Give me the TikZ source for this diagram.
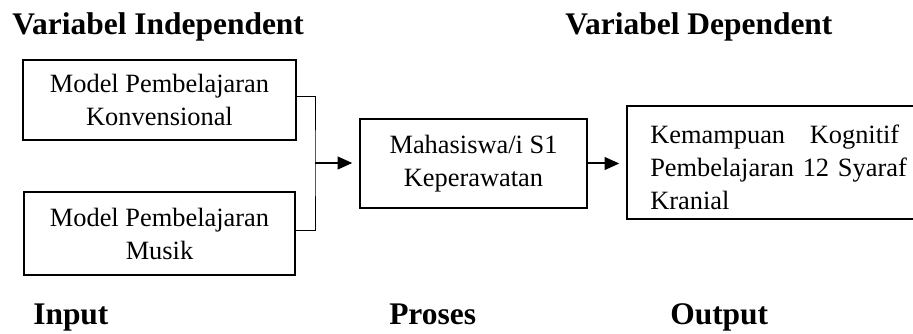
\documentclass[tikz,border=0pt]{standalone}
\usepackage{fontspec}
\setmainfont{Liberation Serif}
\usetikzlibrary{arrows.meta}
\tikzset{
  box/.style={draw, line width=1.5pt, inner sep=0pt, align=center,
    font=\fontsize{19.8}{24.75}\selectfont},
  boxtext/.style={inner sep=0pt, font=\fontsize{19.8}{24.75}\selectfont},
  heading/.style={inner sep=0pt, anchor=base west,
    font=\fontsize{23.6}{28}\selectfont\bfseries},
  link/.style={line width=0.75pt},
  flow/.style={line width=1.5pt, -{Triangle[length=11pt,width=9.5pt]}}
}
\begin{document}
\begin{tikzpicture}[x=0.75pt,y=-0.75pt]
  \clip (0,0) rectangle (913,334);

  % column headings
  \node[heading] (hind) at (12,35) {Variabel Independent};
  \node[heading] (hdep) at (565,35) {Variabel Dependent};

  % independent variables
  \node[box, minimum width=204.75pt, minimum height=60pt] (b1) at (159.5,100)
    {Model Pembelajaran\\Konvensional};
  \node[box, minimum width=203.25pt, minimum height=62.25pt] (b2) at (159.5,233.5)
    {Model Pembelajaran\\Musik};

  % process
  \node[box, minimum width=170.25pt, minimum height=66.75pt] (b3) at (473.5,163.5)
    {Mahasiswa/i S1\\Keperawatan};

  % dependent variable
  \node[box, minimum width=221.25pt, minimum height=84.75pt] (b4) at (774.5,162.5) {};
  \node[boxtext, anchor=north west, text width=186.75pt, align=left] (t4) at (650,125)
    {Kemampuan\hfill Kognitif\\\mbox{Pembelajaran 12 Syaraf}\\Kranial};

  % bracket joining the two inputs
  \coordinate (j) at (315,163);
  \draw[link] ([yshift=2.25pt]b1.east) -| (j) |- ([yshift=1.9pt]b2.east);

  % flow arrows
  \draw[flow, shorten >=5pt] (j) -- (b3.west |- j);
  \draw[flow, shorten >=5pt] (b3.east) -- (b4.west |- b3.east);

  % stage labels
  \node[heading] (lin)  at (33,325)  {Input};
  \node[heading] (lpro) at (389,325) {Proses};
  \node[heading] (lout) at (670,325) {Output};
\end{tikzpicture}
\end{document}
